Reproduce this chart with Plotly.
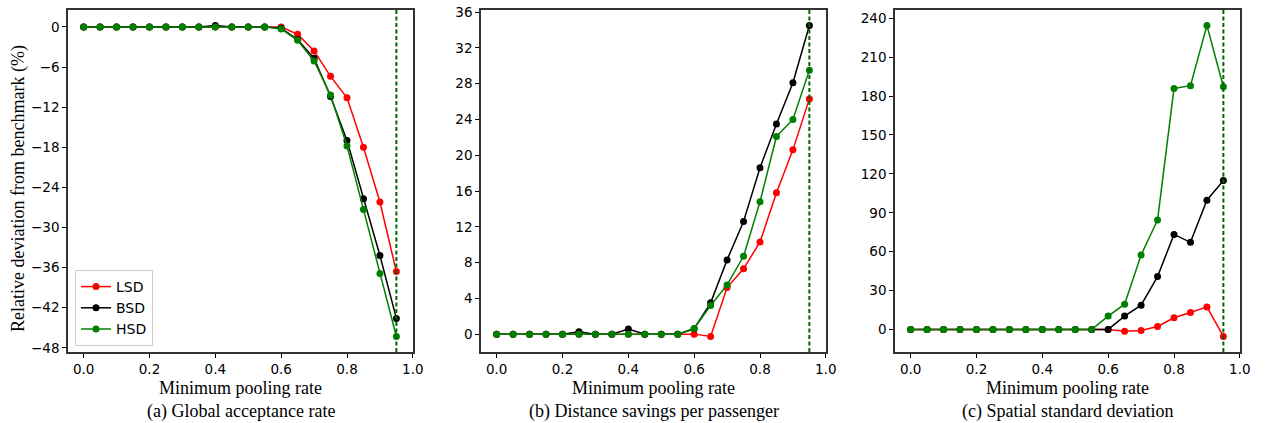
import plotly.graph_objects as go

x_rate = [0.0, 0.05, 0.1, 0.15, 0.2, 0.25, 0.3, 0.35, 0.4, 0.45, 0.5, 0.55, 0.6, 0.65, 0.7, 0.75, 0.8, 0.85, 0.9, 0.95]
series_names = ["LSD", "BSD", "HSD"]
series_colors = ["#ff0000", "#000000", "#008000"]

# (a) Global acceptance rate
a_lsd = [0, 0, 0, 0, 0, 0, 0, 0, 0, 0, 0, 0, 0.0, -1.1, -3.6, -7.4, -10.6, -18.0, -26.2, -36.6]
a_bsd = [0, 0, 0, 0, 0, 0, 0, 0, 0.2, 0, 0, 0, -0.2, -1.9, -4.7, -10.4, -17.0, -25.7, -34.2, -43.6]
a_hsd = [0, 0, 0, 0, 0, 0, 0, 0, 0, 0, 0, 0, -0.3, -2.0, -5.1, -10.2, -17.8, -27.3, -36.9, -46.3]

# (b) Distance savings per passenger
b_lsd = [0, 0, 0, 0, 0, 0, 0, 0, 0, 0, 0, 0, 0.0, -0.26, 5.2, 7.3, 10.3, 15.8, 20.6, 26.3]
b_bsd = [0, 0, 0, 0, 0, 0.26, 0, 0, 0.56, 0, 0, 0, 0.6, 3.5, 8.3, 12.6, 18.6, 23.5, 28.1, 34.5]
b_hsd = [0, 0, 0, 0, 0, 0, 0, 0, 0, 0, 0, 0, 0.63, 3.2, 5.5, 8.7, 14.8, 22.1, 24.0, 29.5]

# (c) Spatial standard deviation
c_lsd = [0, 0, 0, 0, 0, 0, 0, 0, 0, 0, 0, 0, 0.0, -1.3, -0.8, 2.3, 9.0, 13.1, 17.4, -5.4]
c_bsd = [0, 0, 0, 0, 0, 0, 0, 0, 0, 0, 0, 0, 0.0, 10.3, 18.7, 40.8, 73.3, 67.2, 99.7, 114.9]
c_hsd = [0, 0, 0, 0, 0, 0, 0, 0, 0, 0, 0, 0, 10.3, 19.5, 57.4, 84.4, 185.9, 188.0, 234.4, 187.2]

threshold = 0.95

panels = [
    ([a_lsd, a_bsd, a_hsd], [0, -6, -12, -18, -24, -30, -36, -42, -48], "(a) Global acceptance rate"),
    ([b_lsd, b_bsd, b_hsd], [0, 4, 8, 12, 16, 20, 24, 28, 32, 36], "(b) Distance savings per passenger"),
    ([c_lsd, c_bsd, c_hsd], [0, 30, 60, 90, 120, 150, 180, 210, 240], "(c) Spatial standard deviation"),
]
x_ticks = [0.0, 0.2, 0.4, 0.6, 0.8, 1.0]

W, H = 1266, 423
x_domains = [(68, 413), (481, 826), (895, 1240)]
y_top, y_bot = 10, 352

tick_font = dict(family="DejaVu Sans", size=13.5, color="black")
serif = "Liberation Serif, Times New Roman, serif"

fig = go.Figure()
annotations = []
shapes = []

for i, (ys, yticks, caption) in enumerate(panels):
    sfx = "" if i == 0 else str(i + 1)
    xa = "x" + sfx
    ya = "y" + sfx
    for name, color, y in zip(series_names, series_colors, ys):
        fig.add_trace(go.Scatter(
            x=x_rate, y=y, mode="lines+markers", name=name,
            line=dict(color=color, width=1.5),
            marker=dict(color=color, size=7),
            xaxis=xa, yaxis=ya, showlegend=(i == 0),
        ))
    allv = [v for s in ys for v in s]
    lo, hi = min(allv), max(allv)
    pad = 0.05 * (hi - lo)
    xpad = 0.05 * (max(x_rate) - min(x_rate))
    d0, d1 = x_domains[i]
    fig.layout["xaxis" + sfx] = dict(
        domain=[d0 / W, d1 / W], anchor=ya, automargin=False,
        range=[min(x_rate) - xpad, 1.0005],
        tickvals=x_ticks, ticktext=[f"{t:.1f}" for t in x_ticks],
        ticks="outside", ticklen=4, tickcolor="black", tickwidth=1,
        showline=True, mirror=True, linecolor="#333333", linewidth=1.5,
        showgrid=False, zeroline=False, tickfont=tick_font,
    )
    fig.layout["yaxis" + sfx] = dict(
        domain=[1 - y_bot / H, 1 - y_top / H], anchor=xa, automargin=False,
        range=[lo - pad, hi + pad],
        tickvals=yticks, ticktext=[str(t).replace("-", "\u2212") for t in yticks],
        ticks="outside", ticklen=4, tickcolor="black", tickwidth=1,
        showline=True, mirror=True, linecolor="#333333", linewidth=1.5,
        showgrid=False, zeroline=False, tickfont=tick_font,
    )
    shapes.append(dict(type="line", xref=xa, yref=ya + " domain",
                       x0=threshold, x1=threshold, y0=0, y1=1,
                       line=dict(color="#006400", width=2, dash="4px,2.5px")))
    xc = (d0 + d1) / 2 / W
    annotations.append(dict(text="Minimum pooling rate", xref="paper", yref="paper",
                            x=xc, y=1 - 375.5 / H, xanchor="center", yanchor="top",
                            showarrow=False, font=dict(family=serif, size=18, color="black")))
    annotations.append(dict(text=caption, xref="paper", yref="paper",
                            x=xc, y=1 - 398.5 / H, xanchor="center", yanchor="top",
                            showarrow=False, font=dict(family=serif, size=18, color="black")))

annotations.append(dict(text="Relative deviation from benchmark (%)", xref="paper", yref="paper",
                        x=18 / W, y=1 - 189 / H, xanchor="center", yanchor="middle",
                        textangle=-90, showarrow=False,
                        font=dict(family=serif, size=18, color="black")))

fig.update_layout(
    width=W, height=H, margin=dict(l=0, r=0, t=0, b=0, autoexpand=False),
    paper_bgcolor="white", plot_bgcolor="white",
    annotations=annotations, shapes=shapes,
    legend=dict(x=75 / W, y=1 - 346 / H, xanchor="left", yanchor="bottom",
                bgcolor="rgba(255,255,255,0.8)", bordercolor="#cccccc", borderwidth=1,
                font=dict(family="DejaVu Sans", size=14, color="black"),
                tracegroupgap=0, itemwidth=30),
)

fig.write_html("out.html")
